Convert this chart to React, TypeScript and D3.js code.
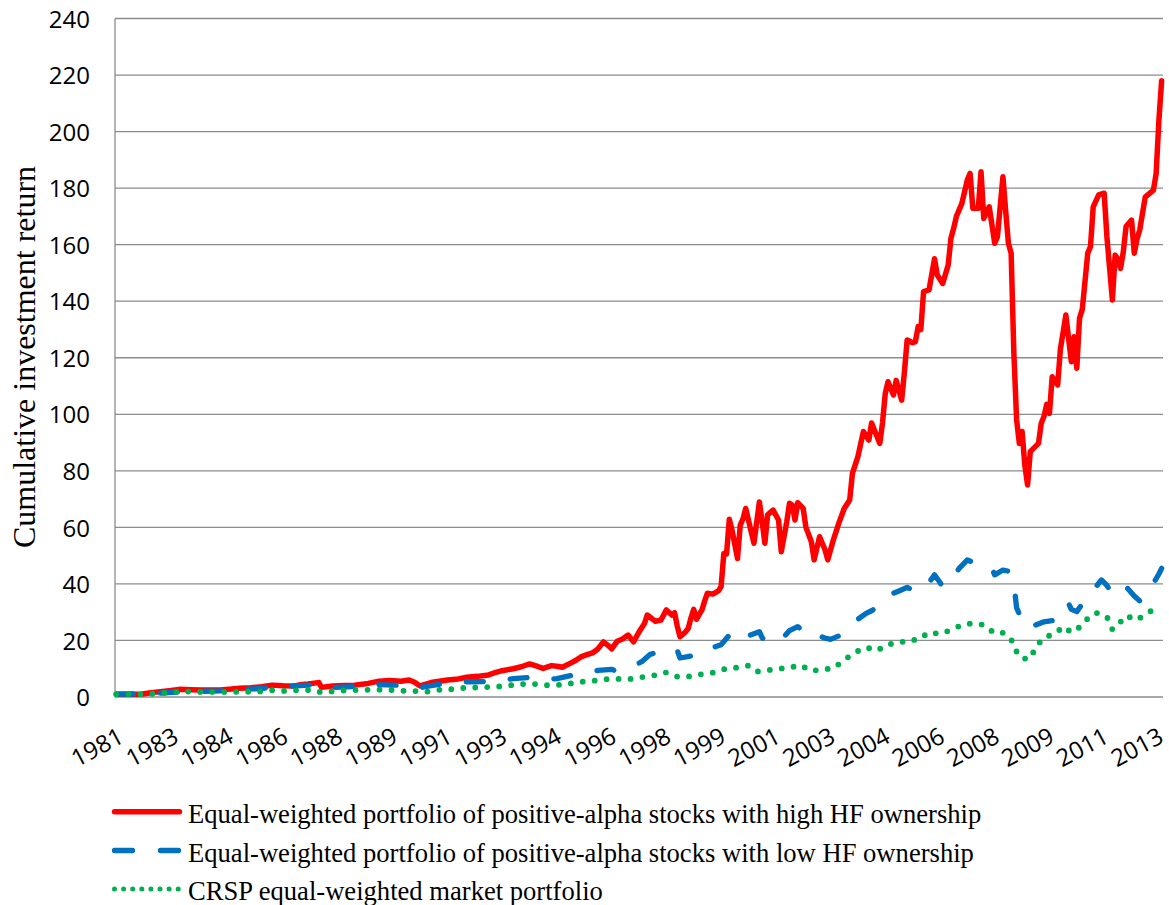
import React, { useEffect, useRef } from 'react';
import * as d3 from 'd3';

// Monthly series, month index 0 = July 1981. Each entry is [monthIndex, cumulative return].
const monthCount = 383;

const xTickLabels = [
    '1981', '1983', '1984', '1986', '1988', '1989', '1991', '1993', '1994', '1996',
    '1998', '1999', '2001', '2003', '2004', '2006', '2008', '2009', '2011', '2013'
];
const xTickEvery = 20;

const yTicks = [0, 20, 40, 60, 80, 100, 120, 140, 160, 180, 200, 220, 240];

const highHF: [number, number][] = [
    [0, 1.0], [3, 1.0], [9, 1.0], [12, 1.4], [16, 1.9], [20, 2.3], [23, 2.7], [27, 2.6], [31, 2.5], [34, 2.5],
    [38, 2.5], [42, 2.8], [45, 3.1], [49, 3.3], [53, 3.6], [57, 4.2], [61, 4.0], [65, 3.9], [67, 4.3], [70, 4.6],
    [73, 5.0], [74, 5.1], [75, 3.4], [79, 3.9], [83, 4.1], [87, 4.2], [92, 4.8], [96, 5.6], [100, 5.8], [104, 5.6],
    [107, 6.0], [109, 5.2], [111, 3.9], [115, 5.1], [118, 5.6], [121, 6.0], [125, 6.4], [128, 7.0], [132, 7.3], [136, 7.8],
    [138, 8.5], [141, 9.3], [145, 10.0], [148, 10.7], [151, 11.7], [154, 10.8], [156, 10.1], [159, 11.1], [161, 10.9], [163, 10.5],
    [166, 12.0], [168, 13.0], [170, 14.3], [172, 15.0], [174, 15.6], [176, 17.0], [178, 19.5], [180, 18.0], [181, 17.0], [183, 19.7],
    [185, 20.5], [187, 21.9], [189, 19.5], [191, 23.0], [193, 26.0], [194, 29.0], [196, 27.5], [197, 26.8], [199, 27.2], [200, 29.0],
    [201, 30.8], [203, 29.0], [204, 29.8], [205, 25.0], [206, 21.3], [208, 23.0], [209, 24.3], [210, 28.0], [211, 31.0], [212, 27.5],
    [214, 30.8], [215, 34.0], [216, 36.7], [218, 36.4], [220, 37.5], [221, 39.0], [222, 50.8], [223, 50.6], [224, 62.9], [225, 59.0],
    [227, 49.0], [228, 60.8], [229, 63.0], [230, 66.7], [231, 62.6], [233, 54.4], [235, 69.0], [236, 62.0], [237, 54.4], [238, 64.4],
    [240, 66.1], [242, 62.6], [243, 51.4], [245, 62.0], [246, 68.5], [247, 67.9], [248, 62.6], [249, 68.7], [251, 66.7], [252, 60.0],
    [254, 54.9], [255, 48.5], [257, 56.7], [259, 52.0], [260, 48.5], [262, 55.5], [264, 61.4], [266, 66.7], [268, 69.7], [269, 79.1],
    [271, 85.0], [273, 93.9], [275, 90.9], [276, 96.9], [279, 89.7], [280, 97.0], [281, 107.4], [282, 111.5], [284, 106.8], [285, 112.0],
    [287, 105.0], [288, 115.0], [289, 126.3], [291, 125.3], [292, 125.7], [293, 131.0], [294, 130.0], [295, 143.4], [297, 144.0], [299, 155.0],
    [300, 149.3], [302, 146.3], [304, 152.8], [305, 162.3], [306, 165.8], [307, 170.0], [309, 174.6], [311, 182.9], [312, 185.2], [313, 172.9],
    [315, 172.9], [316, 185.8], [317, 169.3], [319, 173.4], [321, 160.5], [322, 162.8], [324, 184.0], [325, 172.0], [326, 160.5], [327, 157.0],
    [328, 121.6], [329, 98.0], [330, 89.7], [331, 93.9], [332, 82.0], [333, 75.0], [334, 86.8], [337, 89.7], [338, 96.8], [339, 99.2],
    [340, 103.5], [341, 100.3], [342, 113.3], [344, 110.4], [345, 123.0], [347, 135.1], [349, 118.6], [350, 127.4], [351, 116.3], [352, 134.0],
    [353, 137.1], [355, 157.0], [356, 159.3], [357, 173.4], [359, 177.6], [361, 178.2], [362, 162.8], [364, 140.4], [365, 156.3], [366, 155.0],
    [367, 151.6], [368, 157.5], [369, 166.4], [371, 168.7], [372, 157.0], [373, 162.0], [374, 165.2], [376, 176.8], [379, 179.3], [380, 185.2],
    [381, 204.0], [382, 218.0]
];

const lowHF: [number, number][] = [
    [0, 1.0], [9, 1.1], [16, 1.4], [23, 1.8], [31, 2.0], [38, 2.2], [45, 2.6], [53, 3.0], [60, 3.6], [67, 4.0],
    [73, 4.3], [75, 3.2], [82, 3.5], [89, 3.8], [93, 4.6], [96, 4.4], [101, 4.2], [107, 4.2], [111, 3.3], [115, 4.0],
    [120, 4.8], [128, 5.4], [137, 5.5], [145, 6.5], [152, 7.0], [157, 6.2], [161, 6.5], [168, 8.0], [173, 8.8], [176, 9.4],
    [181, 9.8], [182, 9.4], [184, 10.2], [188, 10.5], [192, 12.5], [195, 15.0], [198, 16.0], [201, 17.2], [203, 16.8], [205, 16.5],
    [206, 13.8], [210, 14.5], [213, 15.0], [215, 16.5], [218, 17.5], [221, 18.5], [224, 21.9], [227, 19.6], [228, 20.5], [230, 21.3],
    [232, 22.0], [235, 23.1], [236, 21.0], [238, 19.0], [241, 20.0], [244, 21.3], [246, 23.5], [249, 24.9], [252, 22.5], [255, 20.8],
    [257, 21.6], [259, 20.8], [261, 20.4], [265, 22.0], [268, 24.9], [271, 27.5], [274, 29.6], [276, 30.5], [279, 32.5], [282, 35.5],
    [284, 36.7], [286, 37.5], [289, 38.8], [292, 37.2], [295, 38.4], [297, 40.5], [299, 43.2], [301, 40.5], [302, 39.0], [305, 41.0],
    [308, 45.5], [311, 48.5], [314, 47.3], [317, 46.7], [320, 45.5], [321, 43.2], [324, 44.9], [326, 44.5], [328, 40.2], [329, 31.5],
    [331, 27.2], [332, 25.5], [333, 24.3], [336, 25.5], [339, 26.6], [342, 27.0], [345, 29.0], [346, 32.0], [348, 33.1], [349, 31.0],
    [351, 30.2], [353, 33.0], [355, 35.5], [358, 39.0], [360, 41.4], [362, 39.5], [364, 36.1], [365, 36.5], [367, 37.8], [369, 39.0],
    [372, 35.7], [374, 34.0], [377, 36.0], [379, 40.2], [381, 43.5], [382, 45.5]
];

const crspEW: [number, number][] = [
    [0, 0.95], [4, 0.95], [9, 0.95], [14, 1.2], [19, 1.5], [24, 2.1], [28, 1.8], [33, 1.8], [38, 1.8], [43, 1.8],
    [48, 1.9], [52, 1.9], [57, 2.4], [62, 2.1], [66, 2.4], [72, 2.5], [75, 1.6], [81, 2.2], [85, 2.4], [90, 2.5],
    [95, 2.6], [99, 2.6], [104, 2.2], [109, 2.1], [114, 1.9], [119, 2.7], [123, 2.8], [128, 3.3], [133, 3.4], [138, 3.6],
    [142, 3.9], [147, 4.5], [152, 4.7], [156, 4.2], [161, 4.2], [166, 4.8], [171, 5.5], [175, 5.8], [180, 6.4], [185, 6.4],
    [189, 6.4], [194, 7.4], [198, 7.8], [201, 8.7], [205, 7.2], [210, 7.3], [214, 8.1], [218, 8.6], [223, 10.1], [226, 10.3],
    [231, 11.1], [234, 9.0], [237, 9.3], [242, 10.1], [245, 10.1], [250, 11.3], [254, 9.2], [258, 9.8], [262, 10.1], [266, 13.1],
    [270, 15.8], [274, 17.6], [278, 16.4], [282, 18.7], [286, 19.0], [289, 20.2], [293, 20.2], [297, 22.9], [301, 22.3], [305, 23.7],
    [309, 25.5], [313, 26.1], [317, 25.5], [321, 22.5], [324, 22.7], [327, 20.4], [329, 16.0], [331, 13.6], [334, 13.6], [336, 17.6],
    [339, 21.1], [343, 22.3], [346, 24.9], [349, 22.9], [351, 23.7], [354, 27.0], [358, 29.8], [362, 28.4], [364, 23.9], [366, 25.5],
    [369, 28.8], [373, 27.2], [376, 29.3], [380, 31.4], [382, 31.8]
];

const legendLabels = [
    'Equal-weighted portfolio of positive-alpha stocks with high HF ownership',
    'Equal-weighted portfolio of positive-alpha stocks with low HF ownership',
    'CRSP equal-weighted market portfolio'
];

const seriesList = [
    { data: highHF, color: '#FF0000', width: 5.5, legendWidth: 5.5, dash: null as string | null, legendDash: null as string | null },
    { data: lowHF, color: '#0070C0', width: 5.3, legendWidth: 5.3, dash: '17 27', legendDash: '18 28' },
    { data: crspEW, color: '#00B050', width: 5.8, legendWidth: 5, dash: '0 12', legendDash: '0 9.1' }
];

const W = 1169;
const H = 905;
const plot = { left: 115, right: 1163, top: 18.5, bottom: 697 };
const gridColor = '#8c8c8c';
const sansFont = '"Open Sans", "Liberation Sans", sans-serif';
const serifFont = '"Liberation Serif", "Times New Roman", serif';

const App: React.FC = () => {
    const svgRef = useRef<SVGSVGElement>(null);

    useEffect(() => {
        const svg = d3.select(svgRef.current);
        svg.selectAll('*').remove();

        const x = d3.scaleLinear()
            .domain([-0.5, monthCount - 0.5])
            .range([plot.left, plot.right]);

        const y = d3.scaleLinear()
            .domain([0, 240])
            .range([plot.bottom, plot.top]);

        // gridlines
        svg.append('g')
            .selectAll('line')
            .data(yTicks)
            .enter()
            .append('line')
            .attr('x1', plot.left)
            .attr('x2', plot.right)
            .attr('y1', d => y(d))
            .attr('y2', d => y(d))
            .attr('stroke', gridColor)
            .attr('stroke-width', 1.3);

        // y axis line
        svg.append('line')
            .attr('x1', plot.left)
            .attr('x2', plot.left)
            .attr('y1', plot.top)
            .attr('y2', plot.bottom)
            .attr('stroke', gridColor)
            .attr('stroke-width', 1.3);

        // y axis labels
        const yAxis = svg.append('g')
            .attr('transform', `translate(${plot.left},0)`)
            .call(d3.axisLeft(y).tickValues(yTicks).tickSize(0).tickPadding(25).tickFormat(d => String(d)));
        yAxis.select('.domain').remove();
        yAxis.selectAll('text')
            .attr('dy', '0.36em')
            .style('font-family', sansFont)
            .style('font-size', '24px')
            .style('fill', '#000');

        // x axis labels (rotated)
        svg.append('g')
            .selectAll('text')
            .data(xTickLabels)
            .enter()
            .append('text')
            .attr('transform', (d, i) => `translate(${x(i * xTickEvery) + 5},734) rotate(-28)`)
            .attr('text-anchor', 'end')
            .attr('dy', '0.36em')
            .style('font-family', sansFont)
            .style('font-size', '24px')
            .style('fill', '#000')
            .text(d => d);

        // y title
        svg.append('text')
            .attr('transform', `translate(35,357) rotate(-90)`)
            .attr('text-anchor', 'middle')
            .style('font-family', serifFont)
            .style('font-size', '32px')
            .style('fill', '#000')
            .text('Cumulative investment return');

        // series
        const line = d3.line<[number, number]>()
            .x(d => x(d[0]))
            .y(d => y(d[1]));

        seriesList.forEach(s => {
            const path = svg.append('path')
                .datum(s.data)
                .attr('d', line)
                .attr('fill', 'none')
                .attr('stroke', s.color)
                .attr('stroke-width', s.width)
                .attr('stroke-linejoin', 'round')
                .attr('stroke-linecap', 'round');
            if (s.dash) path.attr('stroke-dasharray', s.dash);
        });

        // legend
        const legendRows = [811.7, 850.5, 889];
        const legend = svg.append('g');
        legendLabels.forEach((label, i) => {
            const s = seriesList[i];
            const ly = legendRows[i];
            const sw = legend.append('line')
                .attr('x1', 114.5)
                .attr('x2', 179.5)
                .attr('y1', ly)
                .attr('y2', ly)
                .attr('stroke', s.color)
                .attr('stroke-width', s.legendWidth)
                .attr('stroke-linecap', 'round');
            if (s.legendDash) sw.attr('stroke-dasharray', s.legendDash);

            legend.append('text')
                .attr('x', 188)
                .attr('y', ly + 11.3)
                .style('font-family', serifFont)
                .style('font-size', '26.6px')
                .style('fill', '#000')
                .text(label);
        });
    }, []);

    return (
        <div style={{ position: 'absolute', left: 0, top: 0 }}>
            <svg
                ref={svgRef}
                width={W}
                height={H}
                style={{ display: 'block', background: '#fff' }}
            />
        </div>
    );
};

export default App;
